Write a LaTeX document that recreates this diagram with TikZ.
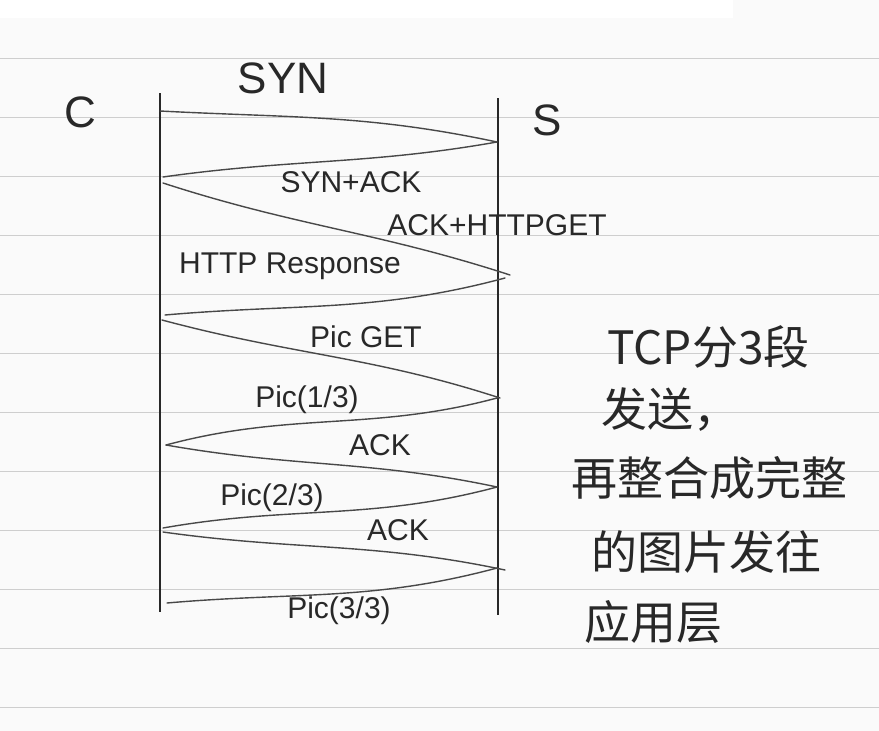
\documentclass[tikz,border=0pt]{standalone}
\usepackage{fontspec}
\setmainfont{Liberation Sans}
\newfontfamily\cjk{Noto Sans CJK SC}
\definecolor{paper}{RGB}{250,250,250}
\definecolor{ruling}{RGB}{206,206,206}
\definecolor{ink}{RGB}{40,40,40}
\begin{document}
\begin{tikzpicture}[
  x=1pt, y=-1pt,
  life/.style={draw=ink, line width=1.5pt},
  msg/.style={draw=ink!85, line width=1.4pt, line cap=round},
  lab/.style={text=ink, inner sep=1pt, font=\fontsize{30}{34}\selectfont},
  big/.style={text=ink, inner sep=1pt, font=\fontsize{44}{50}\selectfont},
  note/.style={text=ink, inner sep=1pt, anchor=west,
               font=\cjk\fontsize{46}{52}\selectfont},
]

% lined paper
\useasboundingbox (0,0) rectangle (879,731);
\fill[paper] (0,0) rectangle (879,731);
\fill[white] (0,0) rectangle (733,18);
\foreach \y in {58,117,...,707}
  \draw[ruling, line width=1pt] (0,\y) -- (879,\y);

% client and server
\node[big] (cl) at (80,112) {C};
\node[big] (sv) at (547,120) {S};

% lifelines
\coordinate (ctop) at (160,93);
\coordinate (cbot) at (160,612);
\coordinate (stop) at (498,98);
\coordinate (sbot) at (498,615);
\draw[life] (ctop) -- (cbot);
\draw[life] (stop) -- (sbot);

% where the messages leave and reach the lifelines
\coordinate (c1) at (160,111);  \coordinate (s1) at (497,142);
\coordinate (c2) at (163,177);
\coordinate (c3) at (163,183);  \coordinate (s3) at (510,275);
\coordinate (s4) at (505,278);  \coordinate (c4) at (165,315);
\coordinate (c5) at (162,320);  \coordinate (s5) at (500,398);
\coordinate (s6) at (497,398);  \coordinate (c6) at (166,445);
\coordinate (s7) at (497,487);
\coordinate (c8) at (163,528);
\coordinate (c9) at (163,532);  \coordinate (s9) at (505,570);
\coordinate (s10) at (497,568); \coordinate (c10) at (167,603);

% handshake and request
\draw[msg] (c1) to[out=-3, in=168] (s1);
\draw[msg] (s1) to[out=190, in=8] (c2);
\draw[msg] (c3) to[out=-18, in=162] (s3);
\draw[msg] (s4) to[out=195, in=5] (c4);
\draw[msg] (c5) to[out=-15, in=162] (s5);

% picture in three segments
\draw[msg] (s6) to[out=195, in=15] (c6);
\draw[msg] (c6) to[out=-10, in=168] (s7);
\draw[msg] (s7) to[out=195, in=10] (c8);
\draw[msg] (c9) to[out=-8, in=168] (s9);
\draw[msg] (s10) to[out=195, in=5] (c10);

% message labels
\node[big] (syn)    at (283,78)  {SYN};
\node[lab] (synack) at (351,182) {SYN+ACK};
\node[lab] (ackget) at (497,225) {ACK+HTTPGET};
\node[lab] (resp)   at (290,266) {HTTP Response};
\node[lab] (picget) at (366,337) {Pic GET};
\node[lab] (pic1)   at (307,400) {Pic(1/3)};
\node[lab] (ack1)   at (380,445) {ACK};
\node[lab] (pic2)   at (272,498) {Pic(2/3)};
\node[lab] (ack2)   at (398,530) {ACK};
\node[lab] (pic3)   at (339,611) {Pic(3/3)};

% side note
\node[note] (n1) at (606,347) {TCP分3段};
\node[note] (n2) at (600,410) {发送，};
\node[note] (n3) at (570,478) {再整合成完整};
\node[note] (n4) at (590,552) {的图片发往};
\node[note] (n5) at (583,622) {应用层};

\end{tikzpicture}
\end{document}
